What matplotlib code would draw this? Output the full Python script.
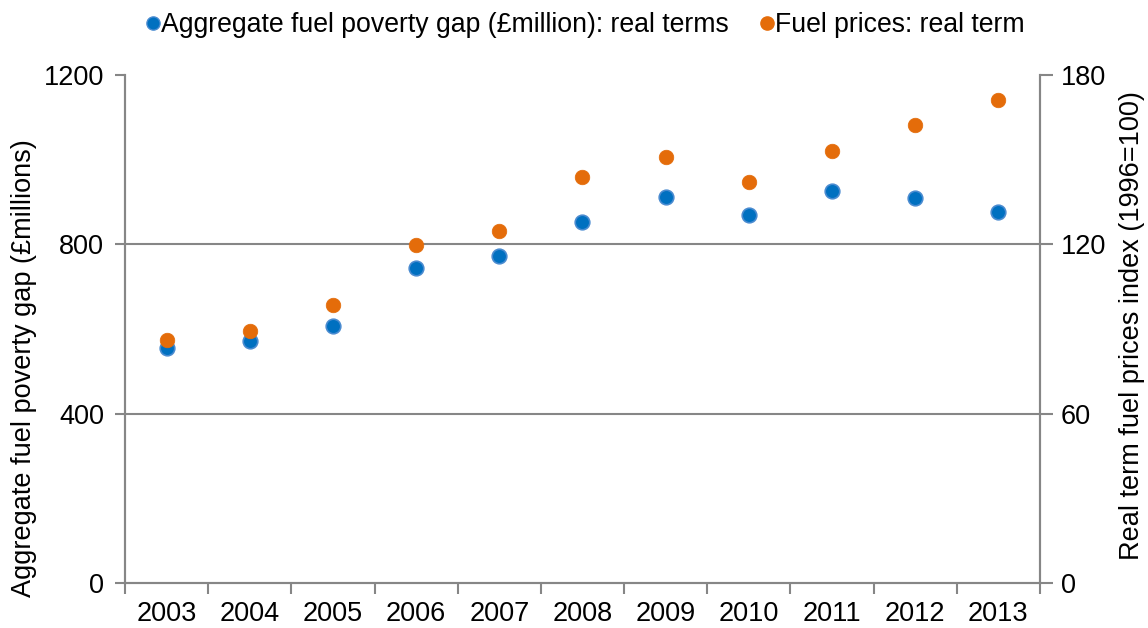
import matplotlib
matplotlib.use("Agg")
import matplotlib.pyplot as plt
import numpy as np
from matplotlib.lines import Line2D

plt.rcParams['font.family'] = ['Liberation Sans', 'DejaVu Sans']

years = ['2003', '2004', '2005', '2006', '2007', '2008', '2009', '2010', '2011', '2012', '2013']
gap_real = [554, 572, 606, 743, 772, 852, 912, 870, 927, 910, 877]
price_index = [86.1, 89.3, 98.4, 119.8, 124.6, 143.8, 151.0, 142.1, 153.1, 162.4, 171.1]

left_ticks = [0, 400, 800, 1200]
right_ticks = [0, 60, 120, 180]

blue = '#0070C0'
blue_edge = '#4A8BD0'
orange = '#E46C0A'
grey = '#868686'
fs = 19.5
W, H = 1148, 628

fig = plt.figure(figsize=(W/100, H/100), dpi=100)
ax = fig.add_axes([125/W, 1-583/H, (1040-125)/W, (583-75)/H])
ax2 = ax.twinx()

x = np.arange(len(years))
ax.plot(x, gap_real, 'o', color=blue, markeredgecolor=blue_edge, markeredgewidth=1.2,
        markersize=10.5, zorder=3, clip_on=False)
ax2.plot(x, price_index, 'o', color=orange, markeredgecolor=orange, markeredgewidth=0.5,
         markersize=10.5, zorder=3, clip_on=False)

ax.set_xlim(-0.5, len(years) - 0.5)
ax.set_ylim(0, 1200)
ax2.set_ylim(0, 180)
ax.set_yticks(left_ticks)
ax2.set_yticks(right_ticks)
ax.set_yticklabels([str(t) for t in left_ticks])
ax2.set_yticklabels([str(t) for t in right_ticks])

ax.set_xticks(np.arange(-0.5, len(years), 1.0))
ax.set_xticklabels([])
ax.set_xticks(x, minor=True)
ax.set_xticklabels(years, minor=True)
ax.tick_params(axis='x', which='major', length=8, width=1.5, color=grey, direction='out')
ax.tick_params(axis='x', which='minor', length=0, labelsize=fs, pad=13)
ax.tick_params(axis='y', length=7, width=1.5, color=grey, labelsize=fs, pad=8)
ax2.tick_params(axis='y', length=9, width=1.5, color=grey, labelsize=fs, pad=6)

for a in (ax, ax2):
    a.spines['top'].set_visible(False)
    for s in ('left', 'right', 'bottom'):
        a.spines[s].set_color(grey)
        a.spines[s].set_linewidth(1.5)

for v in left_ticks[1:-1]:
    ax.axhline(v, color=grey, linewidth=1.5, zorder=1)

fig.text(24/W, 1-368/H, 'Aggregate fuel poverty gap (£millions)', rotation=90,
         ha='center', va='center', fontsize=fs)
fig.text(1132/W, 1-326/H, 'Real term fuel prices index (1996=100)', rotation=90,
         ha='center', va='center', fontsize=fs)

handles = [
    Line2D([], [], marker='o', linestyle='none', color=blue, markeredgecolor=blue_edge, markersize=9.5),
    Line2D([], [], marker='o', linestyle='none', color=orange, markersize=9.5),
]
fig.legend(handles, ['Aggregate fuel poverty gap (£million): real terms', 'Fuel prices: real term'],
           loc='center', bbox_to_anchor=(581/W, 1-25/H), ncol=2, frameon=False, fontsize=19.2,
           handletextpad=-0.3, columnspacing=0.85, handlelength=1.2)

fig.savefig('out.png', dpi=100)
